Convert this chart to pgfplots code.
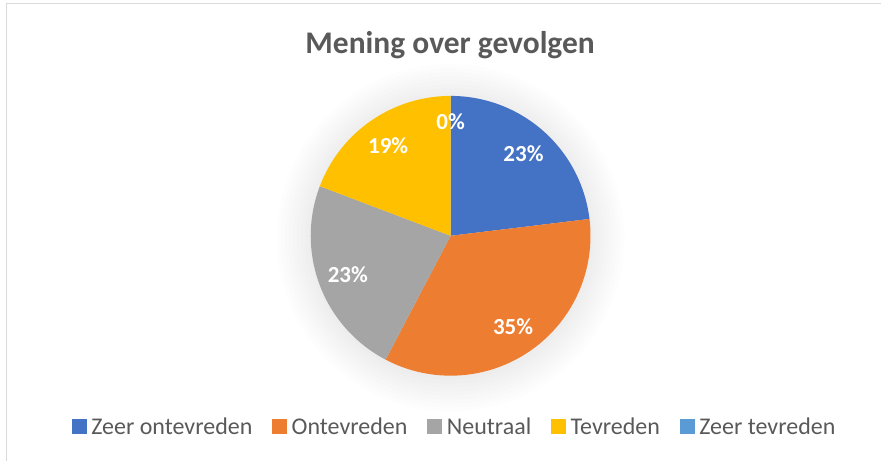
\documentclass[border=0pt]{standalone}
\usepackage{pgfplots}
\usepackage{pgfplotstable}
\pgfplotsset{compat=1.18}
\usepackage{fontspec}
\setmainfont{Carlito}
\definecolor{cBlue}{HTML}{4472C4}
\definecolor{cOrange}{HTML}{ED7D31}
\definecolor{cGray}{HTML}{A5A5A5}
\definecolor{cGold}{HTML}{FFC000}
\definecolor{cLBlue}{HTML}{5B9BD5}
\definecolor{cText}{HTML}{595959}
\definecolor{cBorder}{HTML}{D9D9D9}
\begin{document}%
\begin{tikzpicture}
\pgfplotstableread{
idx count
0 6
1 9
2 6
3 5
4 0
}\piedata
\pgfplotstablegetelem{0}{count}\of\piedata\pgfmathsetmacro\vA{\pgfplotsretval}
\pgfplotstablegetelem{1}{count}\of\piedata\pgfmathsetmacro\vB{\pgfplotsretval}
\pgfplotstablegetelem{2}{count}\of\piedata\pgfmathsetmacro\vC{\pgfplotsretval}
\pgfplotstablegetelem{3}{count}\of\piedata\pgfmathsetmacro\vD{\pgfplotsretval}
\pgfplotstablegetelem{4}{count}\of\piedata\pgfmathsetmacro\vE{\pgfplotsretval}
\pgfmathsetmacro\tot{\vA+\vB+\vC+\vD+\vE}
\pgfmathsetmacro\aA{90}
\pgfmathsetmacro\aB{\aA-360*\vA/\tot}
\pgfmathsetmacro\aC{\aB-360*\vB/\tot}
\pgfmathsetmacro\aD{\aC-360*\vC/\tot}
\pgfmathsetmacro\aE{\aD-360*\vD/\tot}
\pgfmathsetmacro\aF{\aE-360*\vE/\tot}
\pgfmathtruncatemacro\pA{round(100*\vA/\tot)}
\pgfmathtruncatemacro\pB{round(100*\vB/\tot)}
\pgfmathtruncatemacro\pC{round(100*\vC/\tot)}
\pgfmathtruncatemacro\pD{round(100*\vD/\tot)}
\pgfmathtruncatemacro\pE{round(100*\vE/\tot)}
\def\cx{451}\def\cy{225}\def\R{140}\def\LR{110}
\pgfmathsetmacro\lAx{\cx+\LR*cos((\aA+\aB)/2)}\pgfmathsetmacro\lAy{\cy+\LR*sin((\aA+\aB)/2)}
\pgfmathsetmacro\lBx{\cx+\LR*cos((\aB+\aC)/2)}\pgfmathsetmacro\lBy{\cy+\LR*sin((\aB+\aC)/2)}
\pgfmathsetmacro\lCx{\cx+\LR*cos((\aC+\aD)/2)}\pgfmathsetmacro\lCy{\cy+\LR*sin((\aC+\aD)/2)}
\pgfmathsetmacro\lDx{\cx+\LR*cos((\aD+\aE)/2)}\pgfmathsetmacro\lDy{\cy+\LR*sin((\aD+\aE)/2)}
\pgfmathsetmacro\lEx{\cx+114*cos((\aE+\aF)/2)}\pgfmathsetmacro\lEy{\cy+114*sin((\aE+\aF)/2)}
\begin{axis}[at={(0,0)}, anchor=south west, scale only axis,
  width=882bp, height=461bp, xmin=0, xmax=882, ymin=0, ymax=461,
  hide axis, clip=false,
  legend columns=-1,
  legend style={at={(axis cs:455,34)}, anchor=center, draw=none, fill=none,
    font=\fontsize{24bp}{28bp}\selectfont, text=cText,
    nodes={inner sep=2bp},
    /tikz/every odd column/.append style={column sep=3bp},
    /tikz/every even column/.append style={column sep=18bp}},
  legend image code/.code={\fill[#1] (0bp,-7bp) rectangle (14bp,7bp);},
]
% frame lines
\addplot[cBorder, line width=1.5bp, forget plot] coordinates {(6.5,0) (6.5,457.5) (882,457.5)};
% soft shadow
\pgfplotsinvokeforeach{142,146,...,174}{
  \addplot[fill=black, fill opacity=0.009, draw=none, domain=0:360, samples=120, forget plot]
    ({\cx+#1*cos(x)},{\cy-2+#1*sin(x)}) -- cycle;
}
% slices
\addplot[fill=cBlue, draw=none, domain=\aB:\aA, samples=100, variable=\t, forget plot]
  ({\cx+\R*cos(\t)},{\cy+\R*sin(\t)}) -- (axis cs:\cx,\cy) -- cycle;
\addplot[fill=cOrange, draw=none, domain=\aC:\aB, samples=100, variable=\t, forget plot]
  ({\cx+\R*cos(\t)},{\cy+\R*sin(\t)}) -- (axis cs:\cx,\cy) -- cycle;
\addplot[fill=cGray, draw=none, domain=\aD:\aC, samples=100, variable=\t, forget plot]
  ({\cx+\R*cos(\t)},{\cy+\R*sin(\t)}) -- (axis cs:\cx,\cy) -- cycle;
\addplot[fill=cGold, draw=none, domain=\aE:\aD, samples=100, variable=\t, forget plot]
  ({\cx+\R*cos(\t)},{\cy+\R*sin(\t)}) -- (axis cs:\cx,\cy) -- cycle;
% legend
\addlegendimage{cBlue}\addlegendentry{Zeer ontevreden}
\addlegendimage{cOrange}\addlegendentry{Ontevreden}
\addlegendimage{cGray}\addlegendentry{Neutraal}
\addlegendimage{cGold}\addlegendentry{Tevreden}
\addlegendimage{cLBlue}\addlegendentry{Zeer tevreden}
% labels
\begin{scope}[every node/.style={text=white, font=\bfseries\fontsize{23bp}{27bp}\selectfont}]
\node at (axis cs:\lAx,\lAy) {\pA\%};
\node at (axis cs:\lBx,\lBy) {\pB\%};
\node at (axis cs:\lCx,\lCy) {\pC\%};
\node at (axis cs:\lDx,\lDy) {\pD\%};
\node at (axis cs:\lEx,\lEy) {\pE\%};
\end{scope}
% title
\node[anchor=base, text=cText, font=\bfseries\fontsize{31.5bp}{37bp}\selectfont] at (axis cs:450.5,407.7) {Mening over gevolgen};
\end{axis}
\path[use as bounding box] (0,0) rectangle (882bp,461bp);
\end{tikzpicture}%
\end{document}
